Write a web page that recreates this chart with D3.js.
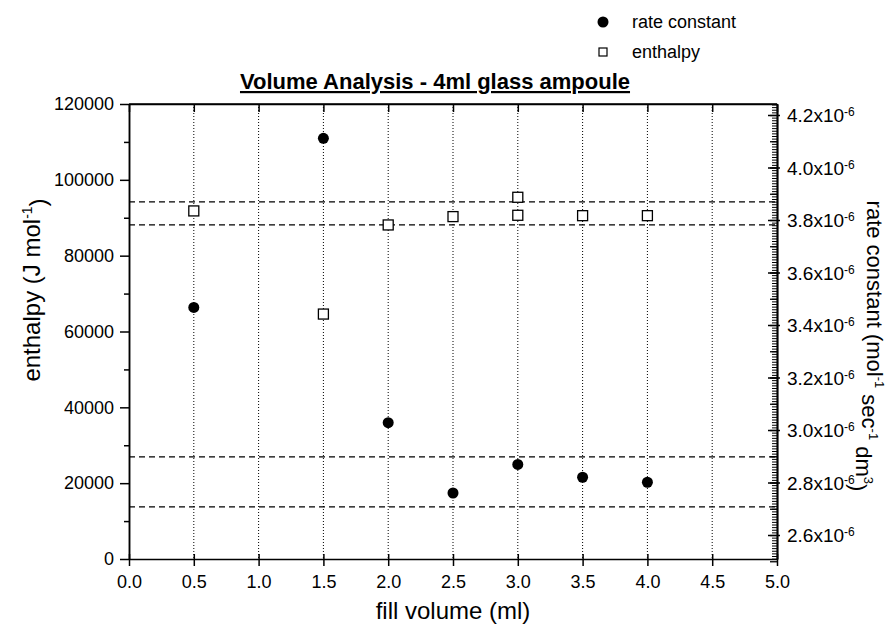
<!DOCTYPE html>
<html>
<head>
<meta charset="utf-8">
<script src="https://cdn.jsdelivr.net/npm/d3@7"></script>
<style>
  body { margin: 0; background: #fff; }
  text { font-family: "Liberation Sans", Arial, sans-serif; fill: #000; }
</style>
</head>
<body>
<div class="chart"></div>
<script>
// data
var fillVolume = [0.5, 1.5, 2.0, 2.5, 3.0, 3.5, 4.0];
var rateConstant = [3.467e-6, 4.111e-6, 3.028e-6, 2.760e-6, 2.869e-6, 2.820e-6, 2.801e-6];

var enthalpyVolume = [0.5, 1.5, 2.0, 2.5, 3.0, 3.0, 3.5, 4.0];
var enthalpy = [91800, 64600, 88100, 90300, 95400, 90650, 90550, 90550];

var enthalpyBands = [94200, 88100];
var rateBands = [2.898e-6, 2.707e-6];

var xTicks = [0, 0.5, 1, 1.5, 2, 2.5, 3, 3.5, 4, 4.5, 5];
var leftTicks = [0, 20000, 40000, 60000, 80000, 100000, 120000];
var rightTicks = [2.6, 2.8, 3.0, 3.2, 3.4, 3.6, 3.8, 4.0, 4.2];

var svgWidth = 895;
var svgHeight = 627;
var margin = { top: 104, right: 118, bottom: 68, left: 129 };
var width = svgWidth - margin.left - margin.right;
var height = svgHeight - margin.top - margin.bottom;
var font = "Liberation Sans, Arial, sans-serif";

var svg = d3.select(".chart").append("svg")
  .attr("width", svgWidth)
  .attr("height", svgHeight);

var chartGroup = svg.append("g")
  .attr("transform", `translate(${margin.left}, ${margin.top})`);

var xScale = d3.scaleLinear().domain([0, 5]).range([0, width]);
var yLeft = d3.scaleLinear().domain([0, 120000]).range([height, 0]);
var yRight = d3.scaleLinear().domain([2.5086e-6, 4.2419e-6]).range([height, 0]);

// vertical dotted grid
chartGroup.selectAll(".grid")
  .data(xTicks.filter(d => d > 0 && d < 5))
  .enter().append("line")
  .attr("x1", d => xScale(d)).attr("x2", d => xScale(d))
  .attr("y1", 0).attr("y2", height)
  .attr("stroke", "#000").attr("stroke-width", 1)
  .attr("stroke-dasharray", "1,2");

// dashed reference lines
chartGroup.selectAll(".band1")
  .data(enthalpyBands)
  .enter().append("line")
  .attr("x1", 0).attr("x2", width)
  .attr("y1", d => yLeft(d)).attr("y2", d => yLeft(d))
  .attr("stroke", "#000").attr("stroke-width", 1.2)
  .attr("stroke-dasharray", "6,4");

chartGroup.selectAll(".band2")
  .data(rateBands)
  .enter().append("line")
  .attr("x1", 0).attr("x2", width)
  .attr("y1", d => yRight(d)).attr("y2", d => yRight(d))
  .attr("stroke", "#000").attr("stroke-width", 1.2)
  .attr("stroke-dasharray", "6,4");

// bottom axis (ticks cross the line)
var bottomAxis = d3.axisBottom(xScale).tickValues(xTicks)
  .tickFormat(d3.format(".1f")).tickSizeInner(7).tickSizeOuter(0);
var xAxis = chartGroup.append("g")
  .attr("transform", `translate(0, ${height})`)
  .call(bottomAxis);
xAxis.selectAll(".tick line").attr("y1", -5).attr("stroke-width", 1.5);
xAxis.selectAll(".tick text").attr("y", 16).style("font-size", "18px")
  .style("font-family", font);

// top axis, inward ticks
var topAxis = d3.axisBottom(xScale).tickValues(xTicks)
  .tickFormat("").tickSizeInner(8).tickSizeOuter(0);
chartGroup.append("g").call(topAxis)
  .selectAll(".tick line").attr("stroke-width", 1.5);

// left axis with minor ticks
var leftMinor = d3.axisLeft(yLeft).tickValues(d3.range(10000, 120000, 20000))
  .tickFormat("").tickSizeInner(5).tickSizeOuter(0);
chartGroup.append("g").call(leftMinor)
  .selectAll(".tick line").attr("stroke-width", 1.5);

var leftAxis = d3.axisLeft(yLeft).tickValues(leftTicks)
  .tickFormat(d3.format("d"))
  .tickSizeInner(9).tickSizeOuter(0).tickPadding(6);
var LeftyAxis = chartGroup.append("g").call(leftAxis);
LeftyAxis.selectAll(".tick line").attr("stroke-width", 1.5);
LeftyAxis.selectAll(".tick text").style("font-size", "18px")
  .style("font-family", font);

// right axis: dense minor ticks pointing inward
var rightMinorVals = d3.range(251, 425).map(d => d / 100 * 1e-6);
var rightMinor = d3.axisLeft(yRight).tickValues(rightMinorVals)
  .tickFormat("").tickSizeInner(5).tickSizeOuter(0);
var rightMid = d3.axisLeft(yRight).tickValues(d3.range(25, 43).map(d => d / 10 * 1e-6))
  .tickFormat("").tickSizeInner(7).tickSizeOuter(0);
var rgMinor = chartGroup.append("g").attr("transform", `translate(${width}, 0)`).call(rightMinor);
var rgMid = chartGroup.append("g").attr("transform", `translate(${width}, 0)`).call(rightMid);
rgMinor.selectAll(".tick line").attr("stroke-width", 1);
rgMid.selectAll(".tick line").attr("stroke-width", 1.3);

var rightAxis = d3.axisRight(yRight).tickValues(rightTicks.map(d => d * 1e-6))
  .tickFormat("").tickSizeInner(3).tickSizeOuter(0);
var RightyAxis = chartGroup.append("g")
  .attr("transform", `translate(${width}, 0)`)
  .call(rightAxis);
RightyAxis.selectAll(".tick line").attr("x1", -9).attr("stroke-width", 1.5);
RightyAxis.selectAll(".tick").append("text")
  .attr("x", 10).attr("dy", "0.35em")
  .style("font-size", "19px").style("text-anchor", "start")
  .style("font-family", font)
  .each(function(d) {
    var t = d3.select(this);
    t.append("tspan").text((d * 1e6).toFixed(1) + "x10");
    t.append("tspan").attr("dy", "-0.5em").style("font-size", "12px").text("-6");
  });

svg.selectAll(".domain").attr("stroke-width", 1.5);

// frame top
chartGroup.append("line").attr("x1", 0).attr("x2", width).attr("y1", 0).attr("y2", 0)
  .attr("stroke", "#000").attr("stroke-width", 1.5);

// points
chartGroup.selectAll(".rate")
  .data(fillVolume.map((v, i) => [v, rateConstant[i]]))
  .enter().append("circle")
  .attr("cx", d => xScale(d[0]))
  .attr("cy", d => yRight(d[1]))
  .attr("r", 5.5)
  .attr("fill", "#000");

var sq = 10;
chartGroup.selectAll(".enth")
  .data(enthalpyVolume.map((v, i) => [v, enthalpy[i]]))
  .enter().append("rect")
  .attr("x", d => xScale(d[0]) - sq / 2)
  .attr("y", d => yLeft(d[1]) - sq / 2)
  .attr("width", sq).attr("height", sq)
  .attr("fill", "#fff").attr("stroke", "#000").attr("stroke-width", 1.3);

// title
svg.append("text")
  .attr("x", 435).attr("y", 89)
  .attr("text-anchor", "middle")
  .style("font-size", "22px").style("font-weight", "bold")
  .style("text-decoration", "underline")
  .text("Volume Analysis - 4ml glass ampoule");

// axis titles
svg.append("text")
  .attr("x", margin.left + width / 2).attr("y", 619)
  .attr("text-anchor", "middle")
  .style("font-size", "24px")
  .text("fill volume (ml)");

var lt = svg.append("text")
  .attr("transform", "translate(40, 290) rotate(-90)")
  .attr("text-anchor", "middle")
  .style("font-size", "24px");
lt.append("tspan").text("enthalpy (J mol");
lt.append("tspan").attr("dy", "-0.6em").style("font-size", "14px").text("-1");
lt.append("tspan").attr("dy", "0.6em").text(")");

var rt = svg.append("text")
  .attr("transform", "translate(867, 346) rotate(90)")
  .attr("text-anchor", "middle")
  .style("font-size", "22px");
rt.append("tspan").text("rate constant (mol");
rt.append("tspan").attr("dy", "-0.6em").style("font-size", "13px").text("-1");
rt.append("tspan").attr("dy", "0.6em").text(" sec");
rt.append("tspan").attr("dy", "-0.6em").style("font-size", "13px").text("-1");
rt.append("tspan").attr("dy", "0.6em").text(" dm");
rt.append("tspan").attr("dy", "-0.6em").style("font-size", "13px").text("3");
rt.append("tspan").attr("dy", "0.6em").text(")");

// legend
var legend = svg.append("g");
legend.append("circle").attr("cx", 603).attr("cy", 22).attr("r", 5.5).attr("fill", "#000");
legend.append("text").attr("x", 632).attr("y", 28).style("font-size", "18px").text("rate constant");
legend.append("rect").attr("x", 599).attr("y", 48).attr("width", 8).attr("height", 8)
  .attr("fill", "#fff").attr("stroke", "#000").attr("stroke-width", 1.2);
legend.append("text").attr("x", 632).attr("y", 58).style("font-size", "18px").text("enthalpy");
</script>
</body>
</html>
